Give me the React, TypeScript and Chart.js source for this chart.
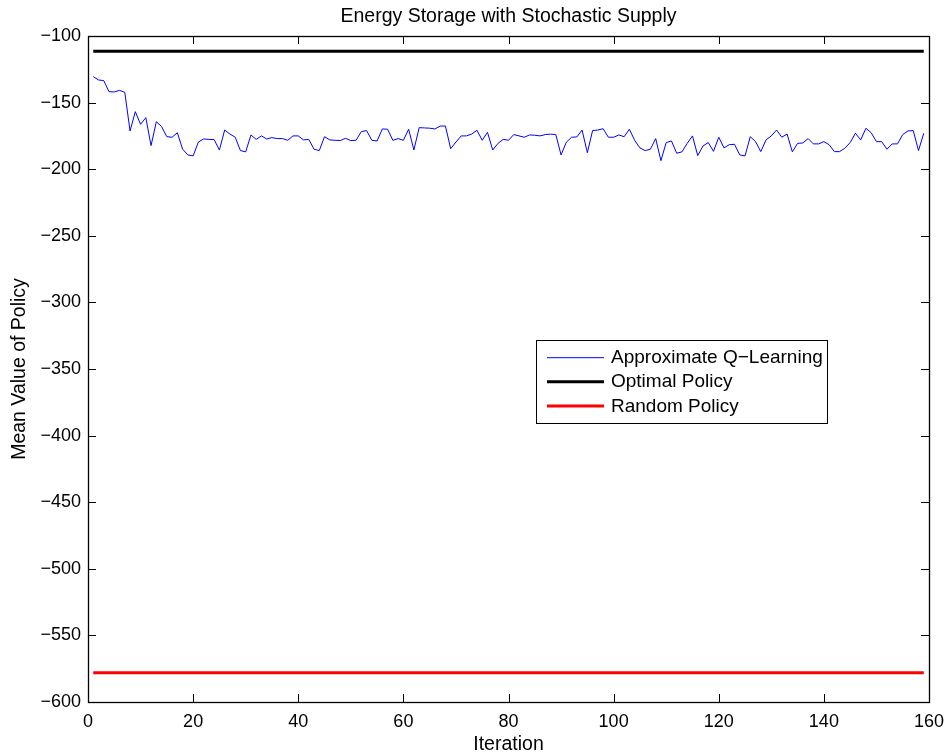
import React, { useEffect, useRef } from "react";
import { Chart, registerables } from "chart.js";

Chart.register(...registerables);

const qLearning: number[] = [
  -130.5, -133, -133.5, -141.8, -142, -140.8, -142.3, -171.3, -156.8, -166.3,
  -161.3, -182.3, -164.3, -168, -175.6, -176, -172.6, -185, -189.3, -190,
  -179.6, -177.3, -177.6, -177.8, -185.6, -170.6, -173.6, -176, -186, -187,
  -174.3, -177.6, -175, -177.3, -176.3, -177, -177, -178.3, -175, -175,
  -178, -177.6, -185, -186, -175.6, -178, -178.3, -178.5, -176.8, -178.5,
  -178.3, -171.8, -171, -178.3, -178.8, -169.8, -170, -178.3, -177, -178.3,
  -170, -185.6, -168.8, -169, -169.2, -169.8, -167.6, -167.6, -184.6, -179.6,
  -175, -175, -173.6, -170.8, -178.3, -172.3, -185.6, -180.6, -177.6, -178.3,
  -174, -175, -176, -174.3, -174.5, -175, -174, -173.7, -174, -189.3,
  -179.8, -176, -175.8, -170.6, -187.6, -171, -170.6, -169.6, -176, -176,
  -174.3, -175.6, -170, -178.3, -184, -186, -185, -177, -193.6, -180,
  -178.8, -188, -187, -180.6, -175, -189.8, -182.6, -180, -186.6, -176,
  -184, -181.6, -181.3, -189.3, -190, -175.6, -179.3, -186.8, -178, -175,
  -170.6, -176, -173.6, -187, -180.6, -180.3, -177, -181, -181, -179.3,
  -181.6, -186.8, -186.8, -184.3, -180, -173, -178, -169.3, -172.6, -179.3,
  -179.3, -185, -181, -181, -174, -171.3, -171, -186, -173,
];
const firstIteration = 1;
const optimalValue = -111.5;
const randomValue = -578;
const seriesLabels = ["Approximate Q\u2212Learning", "Optimal Policy", "Random Policy"];
const xTicks = { min: 0, max: 160, step: 20 };
const yTicks = { min: -600, max: -100, step: 50 };
const titleText = "Energy Storage with Stochastic Supply";
const xTitle = "Iteration";
const yTitle = "Mean Value of Policy";

const FONT = "'Liberation Sans', Arial, Helvetica, sans-serif";

const boxPlugin = {
  id: "matlabBox",
  afterDatasetsDraw(chart: any) {
    const { ctx, chartArea } = chart;
    const { left, right, top, bottom } = chartArea;
    const xs = chart.scales.x;
    const ys = chart.scales.y;
    const tl = 8;
    ctx.save();
    ctx.strokeStyle = "#000";
    ctx.lineWidth = 1;
    ctx.beginPath();
    xs.ticks.forEach((t: any) => {
      const px = Math.round(xs.getPixelForValue(t.value)) + 0.5;
      ctx.moveTo(px, bottom);
      ctx.lineTo(px, bottom - tl);
      ctx.moveTo(px, top);
      ctx.lineTo(px, top + tl);
    });
    ys.ticks.forEach((t: any) => {
      const py = Math.round(ys.getPixelForValue(t.value)) + 0.5;
      ctx.moveTo(left, py);
      ctx.lineTo(left + tl, py);
      ctx.moveTo(right, py);
      ctx.lineTo(right - tl, py);
    });
    ctx.stroke();
    ctx.lineWidth = 1.3;
    ctx.strokeRect(Math.round(left) + 0.5, Math.round(top) + 0.5, Math.round(right - left), Math.round(bottom - top));
    ctx.restore();
  },
  afterDraw(chart: any) {
    const { ctx, chartArea } = chart;
    ctx.save();
    // title centred over the axes
    ctx.fillStyle = "#000";
    ctx.font = `19.5px ${FONT}`;
    ctx.textAlign = "center";
    ctx.textBaseline = "middle";
    ctx.fillText(titleText, (chartArea.left + chartArea.right) / 2, 16.5);

    const bx = 536, by = 340, bw = 291, bh = 83;
    ctx.fillStyle = "#fff";
    ctx.fillRect(bx, by, bw, bh);
    ctx.strokeStyle = "#000";
    ctx.lineWidth = 1;
    ctx.strokeRect(bx + 0.5, by + 0.5, bw, bh);
    const rows = [357.7, 381.7, 406];
    chart.data.datasets.forEach((ds: any, i: number) => {
      const y = rows[i];
      ctx.strokeStyle = ds.borderColor;
      ctx.lineWidth = ds.borderWidth;
      ctx.beginPath();
      ctx.moveTo(547, y);
      ctx.lineTo(604, y);
      ctx.stroke();
      ctx.fillStyle = "#000";
      ctx.font = `19px ${FONT}`;
      ctx.textBaseline = "middle";
      ctx.textAlign = "left";
      ctx.fillText(ds.label, 611, y + 0.5);
    });
    ctx.restore();
  },
};

export default function App() {
  const ref = useRef<HTMLCanvasElement>(null);
  useEffect(() => {
    document.body.style.margin = "0";
    const canvas = ref.current!;
    const qData = qLearning.map((v, i) => ({ x: firstIteration + i, y: v }));
    const optData = qLearning.map((_, i) => ({ x: firstIteration + i, y: optimalValue }));
    const rndData = qLearning.map((_, i) => ({ x: firstIteration + i, y: randomValue }));
    const minus = (v: any) => String(v).replace("-", "\u2212");
    const chart = new Chart(canvas, {
      type: "line",
      data: {
        datasets: [
          { label: seriesLabels[0], data: qData, borderColor: "rgb(0,0,255)", borderWidth: 1, pointRadius: 0, tension: 0 },
          { label: seriesLabels[1], data: optData, borderColor: "rgb(0,0,0)", borderWidth: 3, pointRadius: 0 },
          { label: seriesLabels[2], data: rndData, borderColor: "rgb(255,0,0)", borderWidth: 3, pointRadius: 0 },
        ],
      },
      options: {
        animation: false,
        responsive: false,
        devicePixelRatio: 1,
        layout: { padding: { left: 0, right: 21, top: 36, bottom: 0 } },
        plugins: {
          legend: { display: false },
          tooltip: { enabled: false },
          title: { display: false },
        },
        scales: {
          x: {
            type: "linear",
            min: xTicks.min,
            max: xTicks.max,
            grid: { display: false, drawTicks: false },
            border: { display: false },
            ticks: { stepSize: xTicks.step, color: "#000", font: { family: FONT, size: 18 }, padding: 9, maxRotation: 0, callback: minus },
            title: { display: true, text: xTitle, color: "#000", font: { family: FONT, size: 19.5, lineHeight: 1 }, padding: { top: 0, bottom: -2 } },
            afterFit: (s: any) => { s.height = 50; s.paddingLeft = 0; s.paddingRight = 0; },
          },
          y: {
            type: "linear",
            min: yTicks.min,
            max: yTicks.max,
            grid: { display: false, drawTicks: false },
            border: { display: false },
            ticks: { stepSize: yTicks.step, color: "#000", font: { family: FONT, size: 18 }, padding: 7, callback: minus },
            title: { display: true, text: yTitle, color: "#000", font: { family: FONT, size: 19.5, lineHeight: 1 }, padding: { top: 10, bottom: 0 } },
            afterFit: (s: any) => { s.width = 88; s.paddingTop = 0; s.paddingBottom = 0; },
          },
        },
      },
      plugins: [boxPlugin],
    } as any);
    return () => chart.destroy();
  }, []);
  return <canvas ref={ref} width={950} height={752} style={{ display: "block" }} />;
}
